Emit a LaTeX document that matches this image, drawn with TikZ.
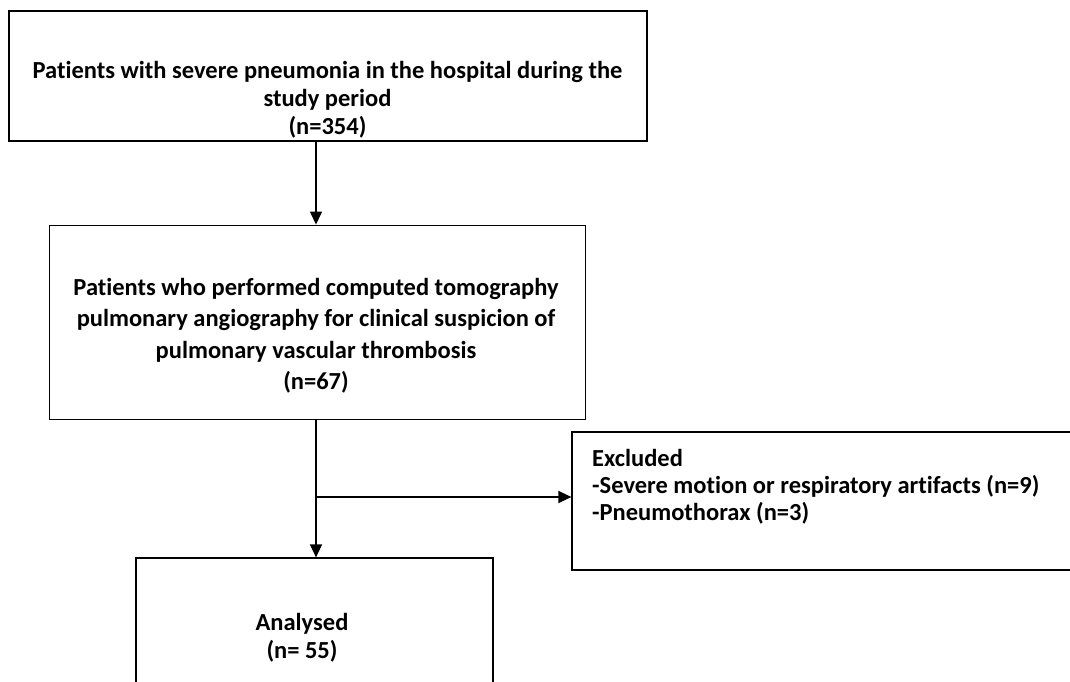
\documentclass[tikz,border=0pt]{standalone}
\usepackage{fontspec}
\setmainfont{Carlito}[Ligatures=NoCommon]
\usetikzlibrary{arrows.meta,positioning}

\tikzset{
  box/.style={draw, rectangle, line width=1.2pt, inner sep=0pt},
  txt/.style={font=\fontsize{24.5}{28}\selectfont\bfseries, align=center, inner sep=0pt},
  arr/.style={line width=1.3pt, -{Triangle[length=13pt,width=12pt]}},
}

\begin{document}
\begin{tikzpicture}[x=1pt,y=-1pt]
  \useasboundingbox (0,0) rectangle (1070,682);
  \clip (0,0) rectangle (1070,682);

  % Boxes
  \node[box, line width=1.6pt, minimum width=638pt, minimum height=130pt] (hosp) at (328,76) {};
  \node[box, line width=0.9pt, minimum width=536pt, minimum height=194pt] (ctpa) at (317,322) {};
  \node[box, minimum width=508pt, minimum height=138pt] (excl) at (826,501) {};
  \node[box, minimum width=357pt, minimum height=200pt] (anal) at (314.5,658) {};

  % Texts
  \node[txt] (hospt) at (327.5,99.5) {Patients with severe pneumonia in the hospital during the\\study period\\(n=354)};
  \node[txt, font=\fontsize{24.5}{31.5}\selectfont\bfseries] (ctpat) at (316,336) {Patients who performed computed tomography\\pulmonary angiography for clinical suspicion of\\pulmonary vascular thrombosis\\(n=67)};
  \node[txt, align=left, anchor=west, font=\fontsize{24.5}{27}\selectfont\bfseries] (exclt) at (592,487) {Excluded\\-Severe motion or respiratory artifacts (n=9)\\-Pneumothorax (n=3)};
  \node[txt] (analt) at (302,638) {Analysed\\(n= 55)};

  % Connectors
  \coordinate (spine) at (316,0);
  \coordinate (fork) at (316,497);
  \draw[arr] (hosp.south -| spine) -- (ctpa.north -| spine);
  \draw[arr] (ctpa.south -| spine) -- (anal.north -| spine);
  \draw[arr] (fork) -- (fork -| excl.west);
\end{tikzpicture}
\end{document}
